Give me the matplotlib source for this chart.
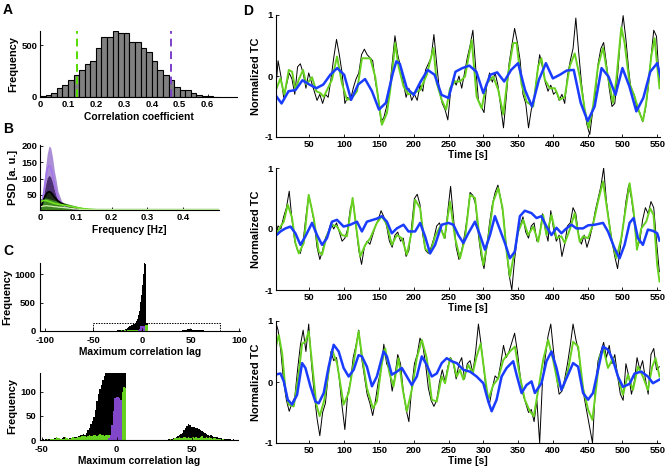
import numpy as np
import matplotlib
matplotlib.use("Agg")
import matplotlib.pyplot as plt

plt.rcParams['font.family'] = ['Liberation Sans', 'DejaVu Sans']
plt.rcParams['font.weight'] = 'bold'
plt.rcParams['axes.labelweight'] = 'bold'
plt.rcParams['axes.unicode_minus'] = False

# ---------------- Panel A data ----------------
corr_bin_left = np.round(np.arange(0.0, 0.64, 0.02), 2)
corr_counts = [13, 22, 38, 83, 118, 165, 213, 255, 315, 347, 468, 573, 573, 637, 611, 611,
               525, 525, 468, 436, 347, 255, 213, 165, 92, 70, 64, 38, 22, 13, 6, 3]
thr_low = 0.131
thr_high = 0.468

# ---------------- Panel B data ----------------
freq = [0.0, 0.005, 0.01, 0.015, 0.02, 0.025, 0.03, 0.035, 0.04, 0.045, 0.05, 0.06,
        0.07, 0.08, 0.1, 0.12, 0.14, 0.16, 0.2, 0.3, 0.4, 0.5]
psd_purple_hi = [8, 30, 75, 130, 175, 200, 195, 165, 125, 96, 62, 32, 22, 16, 10, 7, 5, 4.5, 4.5, 4.5, 4.5, 4.5]
psd_purple_mean = [6, 25, 55, 95, 128, 140, 135, 112, 85, 62, 42, 22, 15, 11, 7, 5, 4.5, 4.5, 4.5, 4.5, 4.5, 4.5]
psd_purple_lo = [5, 20, 45, 78, 102, 110, 105, 88, 66, 48, 33, 17, 12, 9, 6, 5, 4.5, 4.5, 4.5, 4.5, 4.5, 4.5]
psd_all_mean = [5, 20, 35, 48, 57, 60, 58, 52, 44, 38, 32, 24, 19, 14, 8, 5, 4.5, 4.5, 4.5, 4.5, 4.5, 4.5]
psd_green_hi = [38, 40, 42, 41, 40, 38, 37, 35, 34, 32, 31, 28, 25, 22, 16, 11, 7, 4.5, 4.5, 4.5, 4.5, 4.5]
psd_green_mean = [28, 31, 33, 33, 32, 30, 28, 26, 24, 23, 22, 20, 18, 16, 12, 8, 6, 4.5, 4.5, 4.5, 4.5, 4.5]
psd_green_lo = [12, 15, 16, 17, 17, 16, 16, 15, 14, 14, 13, 12, 11, 10, 7, 5, 4.5, 4.5, 4.5, 4.5, 4.5, 4.5]

# ---------------- Panel C data ----------------
lags = np.arange(-50, 81)
lag_all = [1, 2, 1, 2, 3, 2, 3, 2, 3, 5,
           6, 4, 3, 3, 4, 6, 5, 4, 3, 5,
           5, 6, 6, 7, 7, 9, 10, 10, 12, 11,
           15, 20, 25, 33, 40, 48, 62, 80, 95, 105,
           114, 125, 132, 150, 180, 220, 290, 360, 430, 520,
           640, 820, 1000, 1200, 1180, 145, 142, 0, 0, 0,
           0, 0, 0, 0, 0, 0, 0, 0, 0, 0,
           0, 0, 0, 0, 0, 0, 0, 0, 0, 0,
           0, 0, 0, 0, 1, 2, 3, 2, 4, 5,
           6, 8, 10, 12, 15, 20, 25, 30, 34, 32,
           28, 27, 26, 25, 24, 23, 21, 19, 17, 14,
           12, 10, 9, 10, 8, 7, 6, 7, 5, 4,
           4, 3, 3, 2, 3, 2, 2, 1, 2, 1, 1]
lag_green = [0, 0, 1, 0, 2, 1, 3, 2, 2, 3,
             6, 5, 4, 3, 2, 3, 6, 4, 3, 2,
             5, 6, 4, 5, 7, 6, 7, 8, 8, 9,
             7, 8, 10, 9, 8, 10, 11, 9, 10, 12,
             11, 10, 9, 10, 11, 10, 0, 0, 0, 0,
             0, 0, 0, 0, 100, 110, 108, 0, 0, 0,
             0, 0, 0, 0, 0, 0, 0, 0, 0, 0,
             0, 0, 0, 0, 0, 0, 0, 0, 0, 0,
             0, 0, 0, 0, 0, 1, 2, 1, 3, 4,
             5, 4, 6, 5, 4, 6, 7, 5, 6, 5,
             4, 6, 5, 7, 5, 4, 6, 8, 5, 4,
             6, 5, 7, 4, 3, 5, 4, 3, 2, 2,
             1, 2, 1, 0, 1, 0, 0, 0, 0, 0, 0]
purple_lags = [-5, -4, -3, -2, -1, 0, 1, 2, 3]
lag_purple = [4, 11, 32, 60, 87, 90, 90, 87, 84]

# ---------------- Panel D data ----------------
black_t = np.arange(1, 556, 4)

d1_black = [-0.30, 0.25, 0.0, -0.35, -0.15, 0.05, -0.05, -0.30, 0.15, 0.2,
            0.05, -0.2, 0.05, -0.1, -0.25, -0.4, -0.3, -0.45, -0.3, -0.35,
            -0.05, 0.3, 0.6, 0.35, 0.05, -0.45, -0.35, -0.4, -0.2, -0.05,
            0.05, 0.35, 0.44, 0.35, 0.3, 0.25, -0.1, -0.35, -0.75, -0.68,
            -0.5, -0.25, 0.2, 0.66, 0.35, 0.15, -0.1, -0.35, -0.2, -0.4,
            -0.3, -0.4, -0.15, -0.25, 0.1, 0.2, 0.3, 0.68, 0.2, -0.25,
            -0.45, -0.55, -0.72, -0.25, -0.05, -0.15, 0.0, -0.2, 0.05, 0.3,
            0.5, 0.75, 0.15, -0.4, -0.5, -0.6, -0.15, 0.05, -0.1, 0.05,
            -0.15, -0.5, -0.85, -0.35, 0.2, 0.5, 0.78, 0.55, 0.25, -0.3,
            -0.45, -0.85, -0.55, -0.4, 0.0, 0.35, 0.15, -0.1, -0.25, -0.15,
            -0.3, -0.25, -0.4, -0.3, -0.45, 0.0, 0.25, 0.45, 0.95, 0.4,
            -0.1, -0.5, -0.8, -0.96, -0.6, -0.3, 0.2, 0.45, 0.55, 0.2,
            -0.2, -0.5, -0.45, 0.0, 0.6, 0.99, 0.6, 0.1, -0.3, -0.3,
            -0.55, -0.6, -0.75, -0.55, -0.2, 0.3, 0.75, 0.65, -0.1]
d1_green_t = [2.2, 8.4, 14.1, 20.4, 25.1, 29.9, 34.7, 40.9, 45.7, 53.8, 60.0, 65.8, 70.6, 75.3,
              82.5, 89.7, 96.8, 104.0, 111.2, 118.4, 125.5, 137.5, 144.6, 154.2, 161.4, 166.2,
              173.3, 178.1, 185.3, 192.4, 199.6, 209.2, 218.7, 228.3, 233.1, 240.2, 246.5, 252.2,
              259.4, 266.5, 273.7, 283.3, 290.4, 297.6, 304.8, 314.3, 321.5, 328.7, 335.8, 343.0,
              347.8, 355.0, 362.1, 371.7, 378.9, 383.6, 388.4, 395.6, 402.8, 409.9, 417.1, 424.3,
              431.4, 438.6, 445.8, 451.5, 457.7, 464.9, 472.1, 479.2, 486.4, 491.2, 498.4, 503.1,
              510.3, 517.5, 524.7, 529.4, 534.2, 541.4, 546.2, 550.0, 553.3]
d1_green_v = [-0.22, -0.04, -0.31, 0.10, 0.07, -0.23, -0.06, 0.10, -0.14, -0.02, -0.25, -0.28, -0.34,
              -0.23, -0.06, 0.32, -0.12, -0.39, -0.36, -0.25, 0.29, 0.29, -0.01, -0.80, -0.61, -0.23,
              0.54, 0.16, -0.17, -0.30, -0.28, -0.23, 0.02, 0.46, -0.12, -0.39, -0.55, -0.20, -0.09,
              -0.09, -0.01, 0.59, -0.34, -0.53, -0.12, -0.01, -0.23, -0.63, 0.05, 0.54, 0.54, -0.14,
              -0.42, -0.50, 0.16, 0.29, -0.06, -0.20, -0.20, -0.39, -0.34, 0.16, 0.37, -0.01, -0.55,
              -0.85, -0.50, 0.16, 0.46, -0.01, -0.44, -0.06, 0.80, 0.54, -0.12, -0.34, -0.61, -0.74,
              -0.44, 0.32, 0.62, 0.16, -0.20]
d1_blue_t = [1, 10, 20, 30, 40, 50, 60, 70, 80, 90, 100, 110, 120, 130, 140, 150, 160, 170, 175,
             180, 190, 200, 210, 220, 230, 240, 250, 260, 270, 280, 290, 300, 310, 320, 330, 340,
             350, 360, 370, 380, 390, 400, 410, 420, 430, 440, 450, 460, 470, 480, 490, 500, 510,
             520, 530, 540, 550, 555]
d1_blue_v = [-0.31, -0.45, -0.25, -0.23, -0.07, -0.14, -0.20, -0.14, 0.02, 0.13, 0.02, -0.39, -0.14,
             -0.05, -0.25, -0.55, -0.44, 0.05, 0.24, 0.20, -0.20, -0.31, -0.09, 0.10, 0.02, -0.31,
             -0.36, 0.07, 0.13, 0.17, 0.07, -0.28, 0.02, 0.06, -0.09, 0.10, 0.21, -0.23, -0.50,
             -0.06, 0.21, -0.04, 0.02, 0.09, 0.10, -0.44, -0.74, -0.50, 0.13, -0.01, -0.31, 0.13,
             -0.17, -0.58, -0.36, 0.07, 0.21, -0.02]

d2_black = [-0.1, 0.05, 0.0, 0.2, 0.35, 0.62, 0.15, -0.2, -0.35, -0.4,
            -0.2, 0.2, 0.55, 0.35, 0.1, -0.3, -0.5, -0.35, -0.15, -0.05,
            0.1, 0.0, 0.1, -0.05, -0.2, -0.15, 0.0, 0.35, 0.45, 0.05,
            -0.35, -0.58, -0.3, -0.2, -0.25, -0.1, 0.05, 0.15, 0.3, 0.2,
            0.05, -0.2, -0.3, -0.1, -0.05, -0.2, -0.15, -0.45, -0.35, 0.05,
            0.5, 0.57, 0.4, -0.1, -0.35, -0.4, -0.3, -0.15, 0.05, 0.1,
            -0.05, -0.15, 0.3, 0.7, 0.2, -0.3, -0.5, -0.35, -0.1, 0.2,
            0.6, 0.55, 0.4, -0.1, -0.45, -0.65, -0.3, 0.1, 0.4, 0.6,
            0.72, 0.5, 0.2, -0.3, -0.75, -1.0, -0.5, -0.1, 0.05, 0.2,
            -0.05, -0.15, 0.05, 0.1, -0.2, -0.1, 0.25, 0.0, -0.2, 0.3,
            0.0, -0.2, -0.1, -0.45, -0.25, 0.05, 0.1, 0.35, 0.25, -0.1,
            -0.25, -0.1, -0.3, -0.15, 0.05, 0.3, 0.5, 0.7, 1.0, 0.45,
            0.1, -0.2, -0.45, -0.65, -0.3, 0.05, 0.45, 0.72, 0.5, 0.15,
            -0.3, -0.2, 0.15, 0.35, 0.25, 0.45, 0.35, -0.2, -0.7]
d2_green_t = [0.8, 8.4, 13.2, 18.9, 25.1, 29.9, 34.7, 41.9, 49.0, 56.2, 63.4, 68.2, 75.3, 82.5,
              89.7, 96.8, 104.0, 112.1, 118.4, 123.1, 130.3, 137.5, 147.0, 154.2, 161.4, 168.5,
              175.7, 182.9, 190.1, 197.2, 202.0, 209.2, 216.3, 223.5, 230.7, 237.9, 244.1, 252.2,
              259.4, 266.5, 273.7, 280.9, 288.0, 295.2, 300.0, 307.2, 314.3, 321.5, 327.7, 333.5,
              338.2, 344.0, 350.2, 357.4, 364.5, 371.7, 378.9, 386.0, 390.8, 398.0, 405.2, 412.3,
              417.1, 424.3, 431.4, 438.6, 443.4, 450.6, 457.7, 464.9, 472.1, 477.8, 484.0, 491.2,
              498.4, 505.5, 510.3, 516.1, 520.9, 527.1, 534.2, 539.9, 544.7, 550.0, 553.3]
d2_green_v = [-0.12, 0.04, 0.12, 0.40, 0.18, -0.23, -0.40, -0.23, 0.56, 0.18, -0.37, -0.42, -0.10,
              0.07, 0.04, -0.10, -0.12, 0.51, -0.07, -0.45, -0.26, -0.15, 0.10, 0.21, 0.07, -0.26,
              -0.10, -0.15, -0.42, -0.04, 0.48, 0.34, -0.32, -0.40, -0.12, 0.04, -0.15, 0.45, -0.15,
              -0.48, -0.15, 0.56, 0.51, -0.21, -0.59, -0.15, 0.45, 0.67, 0.34, -0.37, -0.78, -0.42,
              -0.04, 0.15, -0.10, 0.04, -0.21, 0.23, -0.10, 0.23, -0.15, -0.12, -0.23, -0.01, 0.26,
              -0.21, -0.12, -0.15, 0.07, 0.45, 0.78, 0.34, -0.15, -0.48, -0.15, 0.40, 0.75, 0.29,
              -0.34, 0.01, 0.12, 0.34, 0.23, -0.59, -0.86]
d2_blue_t = [0.8, 8.4, 15.6, 22.8, 29.9, 37.1, 44.3, 53.8, 61.0, 68.2, 75.3, 82.5, 89.7, 99.2,
             108.8, 118.4, 125.5, 132.7, 147.0, 154.2, 161.4, 168.5, 175.7, 185.3, 192.4, 202.0,
             209.2, 216.3, 223.5, 230.7, 240.2, 249.8, 257.0, 264.1, 271.3, 278.5, 288.0, 295.2,
             302.4, 309.6, 316.7, 323.9, 331.1, 338.2, 345.4, 352.6, 359.7, 369.3, 376.5, 383.6,
             390.8, 398.0, 405.2, 412.3, 419.5, 426.7, 433.8, 443.4, 450.6, 460.1, 472.1, 479.2,
             488.8, 495.9, 503.1, 510.3, 516.1, 522.3, 529.4, 536.6, 543.8, 550.0, 553.3]
d2_blue_v = [-0.12, -0.04, 0.01, 0.04, -0.07, -0.26, -0.12, 0.10, -0.10, -0.26, -0.15, 0.12, 0.15,
             0.04, 0.07, 0.12, -0.04, 0.12, 0.17, 0.21, 0.12, -0.07, 0.01, 0.07, -0.04, -0.04, 0.10,
             -0.12, -0.40, -0.26, 0.07, 0.10, 0.07, -0.10, -0.23, -0.07, 0.12, -0.10, -0.34, -0.10,
             0.21, -0.01, -0.23, -0.48, -0.37, 0.21, 0.30, 0.26, 0.18, 0.21, 0.04, -0.10, 0.02,
             -0.07, 0.01, 0.07, 0.01, 0.01, 0.06, 0.07, 0.10, -0.04, -0.32, -0.48, -0.26, 0.10,
             0.18, -0.15, -0.26, -0.01, -0.03, -0.07, -0.19]

d3_black = [1.0, 0.85, 0.5, 0.0, -0.3, -0.48, -0.35, -0.25, 0.2, 0.6,
            0.85, 0.5, 0.95, 0.3, -0.2, -0.6, -0.88, -0.5, -0.35, 0.1,
            0.5, 0.35, 0.4, 0.05, -0.4, -0.78, -0.2, 0.0, 0.4, 0.6,
            0.85, 0.4, 0.1, -0.2, -0.35, -0.55, -0.3, 0.0, 0.2, 0.62,
            0.3, 0.2, -0.15, 0.1, 0.45, 0.3, -0.15, -0.45, -0.65, -0.1,
            0.3, 0.45, 0.72, 0.6, 0.3, -0.1, -0.3, -0.4, -0.3, 0.0,
            0.2, 0.0, 0.25, 0.4, 0.3, 0.05, 0.3, 0.4, 0.05, 0.3,
            0.35, 0.15, 0.5, 0.95, 0.6, 0.2, -0.25, -0.35, -0.1, 0.1,
            0.05, 0.3, 0.6, 0.4, 0.5, 0.65, 0.8, 0.5, 0.1, -0.2,
            -0.35, -0.5, -0.45, -0.65, -0.3, -1.0, 0.0, 0.4, 0.75, 0.95,
            0.5, 0.1, -0.2, -0.15, 0.05, 0.3, 0.6, 0.95, 0.7, 0.5,
            0.1, -0.25, -0.5, -0.75, -1.0, -0.1, 0.35, 0.5, 0.65, 0.4,
            0.6, 0.3, 0.45, 0.1, -0.2, -0.3, 0.3, 0.1, -0.2, 0.0,
            0.4, 0.2, 0.35, 0.05, -0.2, 0.45, 0.55, 0.2, 0.25]
d3_green_t = [0.8, 6.0, 10.8, 15.6, 20.4, 27.5, 34.7, 39.5, 44.3, 49.0, 53.8, 60.0, 64.8, 71.5,
              77.7, 82.5, 89.7, 99.2, 106.4, 113.6, 120.7, 126.5, 132.7, 141.3, 147.0, 154.2,
              159.0, 165.2, 171.0, 178.1, 184.3, 190.1, 197.2, 204.4, 211.6, 218.7, 225.9, 233.1,
              240.2, 245.0, 252.2, 257.0, 261.8, 266.5, 271.3, 278.5, 284.7, 290.4, 296.2, 302.4,
              307.2, 314.3, 321.5, 328.7, 338.2, 345.4, 352.6, 359.7, 366.9, 372.6, 378.9, 386.0,
              393.2, 400.4, 407.6, 414.7, 421.9, 429.1, 436.3, 443.4, 450.6, 456.8, 462.5, 467.3,
              473.0, 479.2, 486.4, 493.6, 500.7, 507.9, 515.1, 522.3, 529.4, 536.6, 542.8, 547.6,
              553.3]
d3_green_v = [0.53, 0.77, 0.47, -0.13, -0.37, -0.40, 0.14, 0.63, 0.66, 0.83, 0.31, -0.37, -0.56,
              -0.29, 0.17, 0.53, 0.31, -0.37, -0.18, 0.31, 0.83, 0.36, -0.10, -0.43, -0.32, 0.31,
              0.55, 0.14, -0.07, 0.39, -0.13, -0.48, -0.13, 0.39, 0.69, 0.39, -0.29, -0.32, 0.09,
              -0.02, 0.39, 0.31, 0.09, 0.20, 0.04, 0.28, 0.14, 0.42, 0.63, 0.09, -0.29, -0.05, 0.06,
              0.36, 0.50, 0.58, 0.09, -0.29, -0.48, -0.56, -0.13, 0.36, 0.69, 0.36, -0.05, -0.10,
              0.20, 0.66, 0.58, -0.10, -0.45, -0.62, -0.07, 0.42, 0.53, 0.23, 0.39, 0.09, -0.21,
              0.12, -0.13, 0.25, 0.09, -0.13, 0.25, 0.39, 0.09]
d3_blue_t = [0.8, 8.4, 13.2, 18.9, 25.1, 32.3, 39.5, 44.3, 51.4, 58.6, 63.4, 70.6, 77.7, 84.9,
             92.1, 99.2, 106.4, 113.6, 120.7, 125.5, 132.7, 139.9, 147.0, 156.6, 161.4, 168.5,
             175.7, 182.9, 190.1, 197.2, 204.4, 211.6, 218.7, 225.9, 233.1, 240.2, 247.4, 254.6,
             261.8, 271.3, 280.9, 290.4, 300.0, 307.2, 312.0, 319.1, 326.3, 333.5, 343.0, 347.8,
             355.0, 362.1, 369.3, 374.1, 383.6, 390.8, 398.0, 405.2, 412.3, 419.5, 429.1, 436.3,
             443.4, 450.6, 457.7, 464.9, 472.1, 479.2, 486.4, 493.6, 500.7, 510.3, 517.5, 527.1,
             536.6, 543.8, 553.3]
d3_blue_v = [0.12, 0.14, 0.01, -0.29, -0.37, -0.21, 0.31, 0.23, -0.07, -0.32, -0.35, -0.18, 0.25,
             0.61, 0.50, 0.23, 0.09, 0.20, 0.44, 0.42, 0.25, -0.07, 0.09, 0.50, 0.42, 0.12, 0.17,
             0.23, 0.09, -0.05, 0.09, 0.42, 0.28, 0.09, 0.14, 0.31, 0.39, 0.34, 0.31, 0.20, 0.17,
             0.09, -0.02, -0.32, -0.48, -0.29, 0.09, 0.23, 0.34, 0.12, -0.18, -0.05, 0.01, -0.18,
             -0.02, 0.34, 0.50, 0.23, -0.13, 0.06, 0.31, 0.25, -0.18, -0.29, -0.18, 0.20, 0.58,
             0.53, 0.36, 0.09, -0.08, -0.03, 0.14, 0.17, 0.09, -0.02, 0.04]

time_ticks = [50, 100, 150, 200, 250, 300, 350, 400, 450, 500, 550]

# ---------------- styling ----------------
GREEN = '#66d11e'
PURPLE = '#7b3fc8'
BLUE = '#1a3cff'
TICK_FS = 6.8
XLAB_FS = 7.4
YLAB_FS = 7.9

W, H = 666, 472
fig = plt.figure(figsize=(W / 100, H / 100), dpi=100)


def add_ax(l, t, r, b):
    return fig.add_axes([l / W, 1 - b / H, (r - l) / W, (b - t) / H])


def style(ax, xpad=2, ypad=2):
    for s in ['top', 'right']:
        ax.spines[s].set_visible(False)
    for s in ['left', 'bottom']:
        ax.spines[s].set_linewidth(0.8)
    ax.tick_params(direction='in', length=2.5, width=0.6, labelsize=TICK_FS)
    ax.tick_params(axis='x', pad=xpad)
    ax.tick_params(axis='y', pad=ypad)
    for lab in ax.get_xticklabels() + ax.get_yticklabels():
        lab.set_fontweight('bold')


# ---- A ----
axA = add_ax(40, 31, 237, 97)
axA.bar(corr_bin_left, corr_counts, width=0.02, align='edge', color='#808080',
        edgecolor='black', linewidth=0.8)
axA.plot([thr_low, thr_low], [0, 635], ls=(0, (4, 2.5)), color='#55dd00', lw=1.4)
axA.plot([thr_high, thr_high], [0, 635], ls=(0, (4, 2.5)), color=PURPLE, lw=1.4)
axA.set_xlim(0, 0.705)
axA.set_ylim(0, 635)
axA.set_xticks([0, 0.1, 0.2, 0.3, 0.4, 0.5, 0.6])
axA.set_xticklabels(['0', '0.1', '0.2', '0.3', '0.4', '0.5', '0.6'])
axA.set_yticks([0, 500])
axA.set_xlabel('Correlation coefficient', fontsize=XLAB_FS, labelpad=2)
axA.set_ylabel('Frequency', fontsize=YLAB_FS, labelpad=2)
style(axA)

# ---- B ----
axB = add_ax(40, 145, 219, 210)
axB.fill_between(freq, 0, psd_purple_hi, color='#ab8fd6', lw=0)
axB.plot(freq, psd_purple_mean, color='#a574ea', lw=1.2)
axB.fill_between(freq, 0, psd_purple_lo, color='#4e3172', lw=0)
axB.fill_between(freq, 0, psd_all_mean, color='#1e2b16', lw=0)
axB.plot(freq, psd_all_mean, color='black', lw=1.3)
axB.fill_between(freq, 0, psd_green_hi, color='#3f8521', lw=0)
axB.plot(freq, psd_green_mean, color='#6fe022', lw=1.3)
axB.plot(freq, psd_green_lo, color='#d4f2b4', lw=0.9)
axB.set_xlim(0, 0.5)
axB.set_ylim(4, 203)
axB.set_xticks([0, 0.1, 0.2, 0.3, 0.4])
axB.set_xticklabels(['0', '0.1', '0.2', '0.3', '0.4'])
axB.set_yticks([50, 100, 150, 200])
axB.set_xlabel('Frequency [Hz]', fontsize=XLAB_FS, labelpad=2)
axB.set_ylabel('PSD [a. u.]', fontsize=YLAB_FS, labelpad=2)
style(axB)

# ---- C (top) ----
axC1 = add_ax(40, 263, 240, 331)
axC1.bar(lags, lag_all, width=1.0, color='black', lw=0)
axC1.bar(lags, lag_green, width=1.0, color=GREEN, lw=0)
axC1.bar(purple_lags, lag_purple, width=1.0, color='#8246c8', lw=0)
axC1.plot([-50, -50, 80, 80], [0, 150, 150, 0], color='black', lw=0.7, ls=(0, (1.5, 1.2)))
axC1.set_xlim(-105, 101)
axC1.set_ylim(0, 1200)
axC1.set_xticks([-100, -50, 0, 50, 100])
axC1.set_yticks([0, 500, 1000])
axC1.set_xlabel('Maximum correlation lag', fontsize=XLAB_FS, labelpad=1.5)
axC1.set_ylabel('Frequency', fontsize=YLAB_FS, labelpad=2)
style(axC1, xpad=3.5, ypad=3)

# ---- C (bottom) ----
axC2 = add_ax(40, 373, 238, 440)
axC2.bar(lags, lag_all, width=1.0, color='black', lw=0)
axC2.bar(lags, lag_green, width=1.0, color=GREEN, lw=0)
axC2.bar(purple_lags, lag_purple, width=1.0, color='#8246c8', lw=0)
axC2.set_xlim(-51, 81)
axC2.set_ylim(0, 139)
axC2.set_xticks([-50, 0, 50])
axC2.set_yticks([0, 50, 100])
axC2.set_xlabel('Maximum correlation lag', fontsize=XLAB_FS, labelpad=1.5)
axC2.set_ylabel('Frequency', fontsize=YLAB_FS, labelpad=2)
style(axC2, xpad=3.5, ypad=3)

# ---- D ----
d_panels = [
    ((276, 15, 660, 137), d1_black, d1_green_t, d1_green_v, d1_blue_t, d1_blue_v),
    ((276, 168, 660, 290), d2_black, d2_green_t, d2_green_v, d2_blue_t, d2_blue_v),
    ((276, 321, 660, 443), d3_black, d3_green_t, d3_green_v, d3_blue_t, d3_blue_v),
]
for box, kv, gt, gv, bt, bv in d_panels:
    ax = add_ax(*box)
    ax.plot(black_t, kv, color='black', lw=0.7)
    ax.plot(gt, gv, color=GREEN, lw=1.4)
    ax.plot(bt, bv, color=BLUE, lw=1.8)
    ax.set_xlim(2, 554)
    ax.set_ylim(-1, 1)
    ax.set_xticks(time_ticks)
    ax.set_yticks([-1, 0, 1])
    ax.set_xlabel('Time [s]', fontsize=XLAB_FS, labelpad=1)
    ax.set_ylabel('Normalized TC', fontsize=YLAB_FS, labelpad=3)
    style(ax)

# panel letters
for letter, x, y in [('A', 3, 3), ('B', 3, 122), ('C', 3, 244), ('D', 243, 4)]:
    fig.text(x / W, 1 - y / H, letter, fontsize=10, fontweight='bold', va='top', ha='left')

fig.savefig('out.png', dpi=100)
